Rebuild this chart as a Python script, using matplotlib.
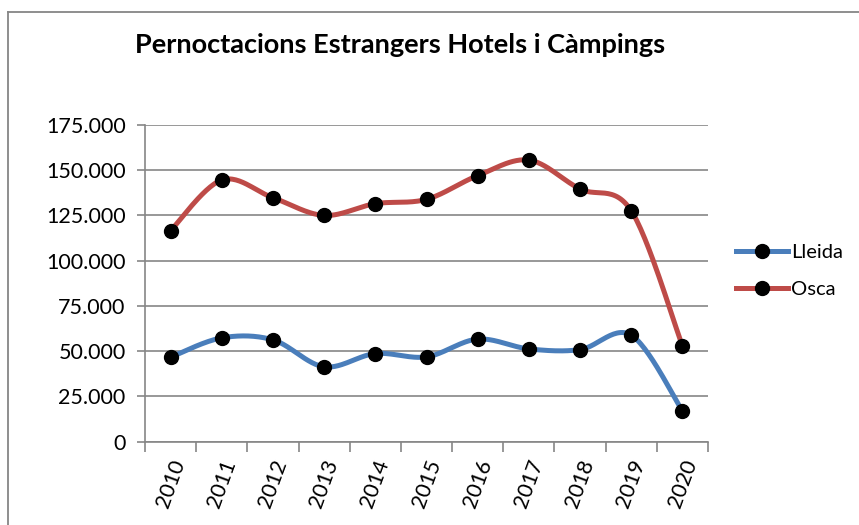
import numpy as np
import matplotlib
matplotlib.use("Agg")
from matplotlib import pyplot as plt
from matplotlib.lines import Line2D
from matplotlib.ticker import FuncFormatter

years = ["2010", "2011", "2012", "2013", "2014", "2015",
         "2016", "2017", "2018", "2019", "2020"]
lleida = [46600, 57300, 56200, 41300, 48600, 46800,
          56600, 51200, 50800, 58800, 17000]
osca = [116600, 144600, 134800, 125000, 131500, 133900,
        147000, 155600, 139600, 127600, 52900]

BLUE = "#4a7ebb"
RED = "#be4b48"
GRID = "#868686"

plt.rcParams["font.family"] = ["Lato", "DejaVu Sans"]


def smooth(xs, ys, n=30):
  # excel-like smoothed line: cubic bezier with catmull-rom control points
  pts = np.column_stack([xs, ys]).astype(float)
  out = []
  for i in range(len(pts) - 1):
    p0 = pts[i - 1] if i > 0 else pts[i]
    p1 = pts[i]
    p2 = pts[i + 1]
    p3 = pts[i + 2] if i + 2 < len(pts) else pts[i + 1]
    c1 = p1 + (p2 - p0) / 6
    c2 = p2 - (p3 - p1) / 6
    t = np.linspace(0, 1, n)[:, None]
    seg = ((1 - t) ** 3) * p1 + 3 * ((1 - t) ** 2) * t * c1 \
        + 3 * (1 - t) * t ** 2 * c2 + t ** 3 * p2
    out.append(seg if i == 0 else seg[1:])
  out = np.vstack(out)
  return out[:, 0], out[:, 1]


fig = plt.figure(figsize=(8.59, 5.25), dpi=100)
ax = fig.add_axes([145 / 859, 1 - 441.5 / 525, (708 - 145) / 859, (441.5 - 125) / 525])

x = np.arange(len(years))
for vals, col, name in [(lleida, BLUE, "Lleida"), (osca, RED, "Osca")]:
  sx, sy = smooth(x, vals)
  ax.plot(sx, sy, color=col, lw=3.6, solid_capstyle="round", zorder=3)
  ax.plot(x, vals, "o", color="black", ms=10, zorder=4)

ax.set_xlim(-0.5, len(years) - 0.5)
ax.set_ylim(0, 175000)
ax.set_yticks(np.arange(0, 175001, 25000))
ax.yaxis.set_major_formatter(FuncFormatter(lambda v, p: "0" if v == 0 else f"{int(v):,}".replace(",", ".")))
ax.grid(axis="y", color=GRID, lw=1.2)
ax.set_axisbelow(True)

ax.set_xticks(np.arange(-0.5, len(years), 1))
ax.set_xticklabels([])
ax.set_xticks(x, minor=True)
ax.set_xticklabels(years, minor=True, rotation=70, fontsize=15.5,
                   ha="center", va="top")
ax.tick_params(axis="x", which="major", length=7, color=GRID, width=1.2)
ax.tick_params(axis="x", which="minor", length=0, pad=11)
ax.tick_params(axis="y", length=6, color=GRID, width=1.2, labelsize=15.5, pad=8)

for s in ["top", "right"]:
  ax.spines[s].set_visible(False)
for s in ["left", "bottom"]:
  ax.spines[s].set_color(GRID)
  ax.spines[s].set_linewidth(1.2)

fig.text(400 / 859, 1 - 45 / 525, "Pernoctacions Estrangers Hotels i Càmpings",
         ha="center", va="center", fontsize=19.5, fontweight="bold")

handles = [Line2D([], [], color=BLUE, lw=3.6, marker="o", ms=10, mfc="black", mec="black"),
           Line2D([], [], color=RED, lw=3.6, marker="o", ms=10, mfc="black", mec="black")]
fig.legend(handles, ["Lleida", "Osca"], loc="center left",
           bbox_to_anchor=(730 / 859, 1 - 271 / 525), frameon=False, borderaxespad=0,
           fontsize=14.5, handlelength=2.6, handletextpad=0.15, labelspacing=1.0,
           borderpad=0.3)

# chart area border
fig.add_artist(Line2D([8 / 859, 8 / 859], [0, 1 - 12 / 525], transform=fig.transFigure,
                      color=GRID, lw=1.3))
fig.add_artist(Line2D([8 / 859, 1], [1 - 12 / 525, 1 - 12 / 525], transform=fig.transFigure,
                      color=GRID, lw=1.3))

fig.savefig("out.png", dpi=100)
